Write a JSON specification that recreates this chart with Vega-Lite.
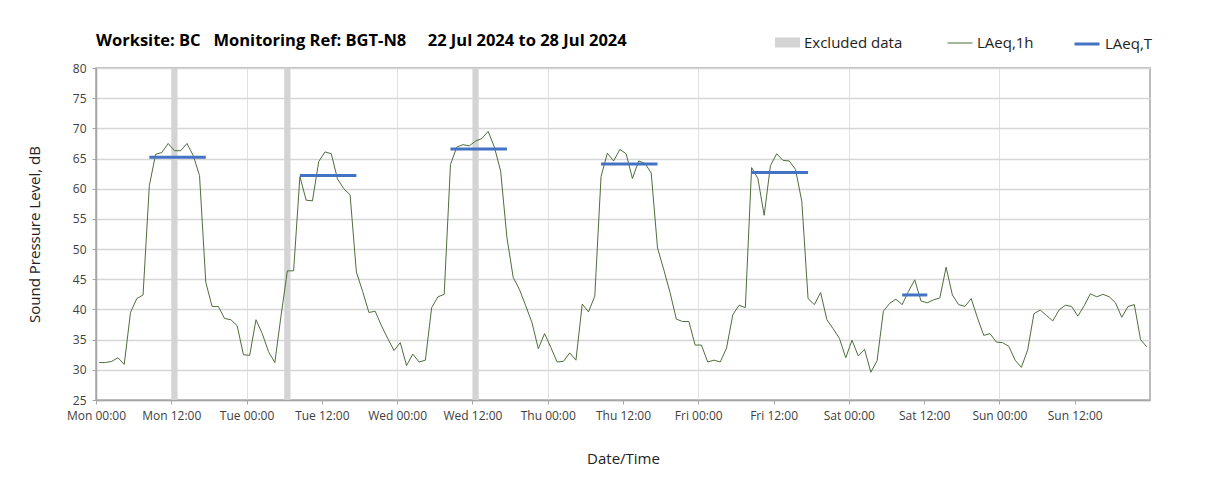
{
"$schema": "https://vega.github.io/schema/vega-lite/v6.json",
"width": 1054, "height": 332,
"autosize": "none",
"padding": {"left": 96, "top": 68, "right": 58, "bottom": 90},
"background": "white",
"title": {"text": "Worksite: BC\u00a0\u00a0\u00a0Monitoring Ref: BGT-N8\u00a0\u00a0\u00a0\u00a0\u00a022 Jul 2024 to 28 Jul 2024", "anchor": "start", "frame": "group", "font": "Open Sans", "fontSize": 16.5, "fontWeight": "bold", "color": "#000000", "offset": -19},
"config": {
  "view": {"stroke": "#a6a6a6", "strokeWidth": 1.5},
  "axis": {"labelFont": "Open Sans", "labelFontSize": 12, "labelColor": "#404040", "titleFont": "Open Sans", "titleFontSize": 15, "titleFontWeight": "normal", "titleColor": "#222222", "tickColor": "#a6a6a6", "domainColor": "#a6a6a6", "domainWidth": 1.5, "tickSize": 4, "labelOverlap": false, "labelFlush": false},
  "legend": {"orient": "none", "direction": "horizontal", "title": null, "padding": 0, "labelFont": "Open Sans", "labelFontSize": 15, "labelColor": "#222222", "symbolSize": 625, "labelOffset": 4, "symbolOpacity": 1}
},
"datasets": {
  "hourly": [
{"t":"2024-07-22T00:30Z","v":31.2},{"t":"2024-07-22T01:30Z","v":31.2},{"t":"2024-07-22T02:30Z","v":31.4},{"t":"2024-07-22T03:30Z","v":32.0},{"t":"2024-07-22T04:30Z","v":30.9},{"t":"2024-07-22T05:30Z","v":39.5},{"t":"2024-07-22T06:30Z","v":41.8},{"t":"2024-07-22T07:30Z","v":42.4},{"t":"2024-07-22T08:30Z","v":60.5},{"t":"2024-07-22T09:30Z","v":65.7},{"t":"2024-07-22T10:30Z","v":66.0},{"t":"2024-07-22T11:30Z","v":67.5},{"t":"2024-07-22T12:30Z","v":66.3},{"t":"2024-07-22T13:30Z","v":66.3},{"t":"2024-07-22T14:30Z","v":67.5},{"t":"2024-07-22T15:30Z","v":65.5},{"t":"2024-07-22T16:30Z","v":62.2},{"t":"2024-07-22T17:30Z","v":44.5},{"t":"2024-07-22T18:30Z","v":40.5},{"t":"2024-07-22T19:30Z","v":40.5},{"t":"2024-07-22T20:30Z","v":38.5},{"t":"2024-07-22T21:30Z","v":38.3},{"t":"2024-07-22T22:30Z","v":37.3},{"t":"2024-07-22T23:30Z","v":32.5},
{"t":"2024-07-23T00:30Z","v":32.4},{"t":"2024-07-23T01:30Z","v":38.3},{"t":"2024-07-23T02:30Z","v":36.0},{"t":"2024-07-23T03:30Z","v":33.0},{"t":"2024-07-23T04:30Z","v":31.2},{"t":"2024-07-23T05:30Z","v":39.0},{"t":"2024-07-23T06:30Z","v":46.4},{"t":"2024-07-23T07:30Z","v":46.4},{"t":"2024-07-23T08:30Z","v":62.0},{"t":"2024-07-23T09:30Z","v":58.1},{"t":"2024-07-23T10:30Z","v":58.0},{"t":"2024-07-23T11:30Z","v":64.5},{"t":"2024-07-23T12:30Z","v":66.1},{"t":"2024-07-23T13:30Z","v":65.8},{"t":"2024-07-23T14:30Z","v":61.6},{"t":"2024-07-23T15:30Z","v":60.0},{"t":"2024-07-23T16:30Z","v":59.0},{"t":"2024-07-23T17:30Z","v":46.2},{"t":"2024-07-23T18:30Z","v":43.0},{"t":"2024-07-23T19:30Z","v":39.5},{"t":"2024-07-23T20:30Z","v":39.7},{"t":"2024-07-23T21:30Z","v":37.3},{"t":"2024-07-23T22:30Z","v":35.2},{"t":"2024-07-23T23:30Z","v":33.2},
{"t":"2024-07-24T00:30Z","v":34.5},{"t":"2024-07-24T01:30Z","v":30.7},{"t":"2024-07-24T02:30Z","v":32.6},{"t":"2024-07-24T03:30Z","v":31.3},{"t":"2024-07-24T04:30Z","v":31.6},{"t":"2024-07-24T05:30Z","v":40.3},{"t":"2024-07-24T06:30Z","v":42.1},{"t":"2024-07-24T07:30Z","v":42.5},{"t":"2024-07-24T08:30Z","v":64.0},{"t":"2024-07-24T09:30Z","v":66.9},{"t":"2024-07-24T10:30Z","v":67.3},{"t":"2024-07-24T11:30Z","v":67.1},{"t":"2024-07-24T12:30Z","v":67.9},{"t":"2024-07-24T13:30Z","v":68.3},{"t":"2024-07-24T14:30Z","v":69.5},{"t":"2024-07-24T15:30Z","v":66.9},{"t":"2024-07-24T16:30Z","v":62.9},{"t":"2024-07-24T17:30Z","v":51.9},{"t":"2024-07-24T18:30Z","v":45.3},{"t":"2024-07-24T19:30Z","v":43.3},{"t":"2024-07-24T20:30Z","v":40.6},{"t":"2024-07-24T21:30Z","v":37.8},{"t":"2024-07-24T22:30Z","v":33.5},{"t":"2024-07-24T23:30Z","v":36.0},
{"t":"2024-07-25T00:30Z","v":33.7},{"t":"2024-07-25T01:30Z","v":31.3},{"t":"2024-07-25T02:30Z","v":31.4},{"t":"2024-07-25T03:30Z","v":32.8},{"t":"2024-07-25T04:30Z","v":31.6},{"t":"2024-07-25T05:30Z","v":40.9},{"t":"2024-07-25T06:30Z","v":39.6},{"t":"2024-07-25T07:30Z","v":42.2},{"t":"2024-07-25T08:30Z","v":62.0},{"t":"2024-07-25T09:30Z","v":65.9},{"t":"2024-07-25T10:30Z","v":64.6},{"t":"2024-07-25T11:30Z","v":66.5},{"t":"2024-07-25T12:30Z","v":65.8},{"t":"2024-07-25T13:30Z","v":61.7},{"t":"2024-07-25T14:30Z","v":64.6},{"t":"2024-07-25T15:30Z","v":64.2},{"t":"2024-07-25T16:30Z","v":62.6},{"t":"2024-07-25T17:30Z","v":50.2},{"t":"2024-07-25T18:30Z","v":46.6},{"t":"2024-07-25T19:30Z","v":42.8},{"t":"2024-07-25T20:30Z","v":38.4},{"t":"2024-07-25T21:30Z","v":38.0},{"t":"2024-07-25T22:30Z","v":38.0},{"t":"2024-07-25T23:30Z","v":34.1},
{"t":"2024-07-26T00:30Z","v":34.1},{"t":"2024-07-26T01:30Z","v":31.3},{"t":"2024-07-26T02:30Z","v":31.6},{"t":"2024-07-26T03:30Z","v":31.3},{"t":"2024-07-26T04:30Z","v":33.6},{"t":"2024-07-26T05:30Z","v":39.1},{"t":"2024-07-26T06:30Z","v":40.7},{"t":"2024-07-26T07:30Z","v":40.3},{"t":"2024-07-26T08:30Z","v":63.5},{"t":"2024-07-26T09:30Z","v":61.7},{"t":"2024-07-26T10:30Z","v":55.6},{"t":"2024-07-26T11:30Z","v":63.8},{"t":"2024-07-26T12:30Z","v":65.8},{"t":"2024-07-26T13:30Z","v":64.7},{"t":"2024-07-26T14:30Z","v":64.6},{"t":"2024-07-26T15:30Z","v":63.2},{"t":"2024-07-26T16:30Z","v":57.9},{"t":"2024-07-26T17:30Z","v":41.8},{"t":"2024-07-26T18:30Z","v":40.8},{"t":"2024-07-26T19:30Z","v":42.8},{"t":"2024-07-26T20:30Z","v":38.3},{"t":"2024-07-26T21:30Z","v":36.8},{"t":"2024-07-26T22:30Z","v":35.2},{"t":"2024-07-26T23:30Z","v":32.0},
{"t":"2024-07-27T00:30Z","v":34.9},{"t":"2024-07-27T01:30Z","v":32.3},{"t":"2024-07-27T02:30Z","v":33.4},{"t":"2024-07-27T03:30Z","v":29.6},{"t":"2024-07-27T04:30Z","v":31.5},{"t":"2024-07-27T05:30Z","v":39.7},{"t":"2024-07-27T06:30Z","v":41.0},{"t":"2024-07-27T07:30Z","v":41.7},{"t":"2024-07-27T08:30Z","v":40.8},{"t":"2024-07-27T09:30Z","v":43.0},{"t":"2024-07-27T10:30Z","v":44.9},{"t":"2024-07-27T11:30Z","v":41.4},{"t":"2024-07-27T12:30Z","v":41.1},{"t":"2024-07-27T13:30Z","v":41.6},{"t":"2024-07-27T14:30Z","v":41.9},{"t":"2024-07-27T15:30Z","v":47.0},{"t":"2024-07-27T16:30Z","v":42.4},{"t":"2024-07-27T17:30Z","v":40.8},{"t":"2024-07-27T18:30Z","v":40.5},{"t":"2024-07-27T19:30Z","v":41.8},{"t":"2024-07-27T20:30Z","v":38.6},{"t":"2024-07-27T21:30Z","v":35.7},{"t":"2024-07-27T22:30Z","v":36.0},{"t":"2024-07-27T23:30Z","v":34.6},
{"t":"2024-07-28T00:30Z","v":34.5},{"t":"2024-07-28T01:30Z","v":33.9},{"t":"2024-07-28T02:30Z","v":31.6},{"t":"2024-07-28T03:30Z","v":30.4},{"t":"2024-07-28T04:30Z","v":33.3},{"t":"2024-07-28T05:30Z","v":39.3},{"t":"2024-07-28T06:30Z","v":39.9},{"t":"2024-07-28T07:30Z","v":39.0},{"t":"2024-07-28T08:30Z","v":38.1},{"t":"2024-07-28T09:30Z","v":39.9},{"t":"2024-07-28T10:30Z","v":40.7},{"t":"2024-07-28T11:30Z","v":40.5},{"t":"2024-07-28T12:30Z","v":38.9},{"t":"2024-07-28T13:30Z","v":40.6},{"t":"2024-07-28T14:30Z","v":42.6},{"t":"2024-07-28T15:30Z","v":42.1},{"t":"2024-07-28T16:30Z","v":42.5},{"t":"2024-07-28T17:30Z","v":42.1},{"t":"2024-07-28T18:30Z","v":41.1},{"t":"2024-07-28T19:30Z","v":38.7},{"t":"2024-07-28T20:30Z","v":40.5},{"t":"2024-07-28T21:30Z","v":40.8},{"t":"2024-07-28T22:30Z","v":35.0},{"t":"2024-07-28T23:30Z","v":33.8}
  ],
  "excluded": [
    {"start": "2024-07-22T12:00Z", "end": "2024-07-22T13:00Z"},
    {"start": "2024-07-23T06:00Z", "end": "2024-07-23T07:00Z"},
    {"start": "2024-07-24T12:00Z", "end": "2024-07-24T13:00Z"}
  ],
  "periods": [
    {"start": "2024-07-22T08:30Z", "end": "2024-07-22T17:30Z", "v": 65.2},
    {"start": "2024-07-23T08:30Z", "end": "2024-07-23T17:30Z", "v": 62.2},
    {"start": "2024-07-24T08:30Z", "end": "2024-07-24T17:30Z", "v": 66.6},
    {"start": "2024-07-25T08:30Z", "end": "2024-07-25T17:30Z", "v": 64.1},
    {"start": "2024-07-26T08:30Z", "end": "2024-07-26T17:30Z", "v": 62.7},
    {"start": "2024-07-27T08:30Z", "end": "2024-07-27T12:30Z", "v": 42.4}
  ]
},
"layer": [
  {
    "data": {"name": "excluded"},
    "mark": {"type": "rect", "opacity": 1},
    "encoding": {
      "x": {"field": "start", "type": "temporal",
        "scale": {"type": "utc", "domain": [{"year": 2024, "month": 7, "date": 22, "utc": true}, {"year": 2024, "month": 7, "date": 29, "utc": true}]},
        "axis": {
          "values": [
            {"year": 2024, "month": 7, "date": 22, "hours": 0, "utc": true},
            {"year": 2024, "month": 7, "date": 22, "hours": 12, "utc": true},
            {"year": 2024, "month": 7, "date": 23, "hours": 0, "utc": true},
            {"year": 2024, "month": 7, "date": 23, "hours": 12, "utc": true},
            {"year": 2024, "month": 7, "date": 24, "hours": 0, "utc": true},
            {"year": 2024, "month": 7, "date": 24, "hours": 12, "utc": true},
            {"year": 2024, "month": 7, "date": 25, "hours": 0, "utc": true},
            {"year": 2024, "month": 7, "date": 25, "hours": 12, "utc": true},
            {"year": 2024, "month": 7, "date": 26, "hours": 0, "utc": true},
            {"year": 2024, "month": 7, "date": 26, "hours": 12, "utc": true},
            {"year": 2024, "month": 7, "date": 27, "hours": 0, "utc": true},
            {"year": 2024, "month": 7, "date": 27, "hours": 12, "utc": true},
            {"year": 2024, "month": 7, "date": 28, "hours": 0, "utc": true},
            {"year": 2024, "month": 7, "date": 28, "hours": 12, "utc": true}
          ],
          "format": "%a %H:%M",
          "labelPadding": 6,
          "labelOverlap": false,
          "labelFlush": false,
          "title": "Date/Time",
          "titlePadding": 30,
          "grid": true,
          "gridColor": {"condition": {"test": "utchours(datum.value) == 0", "value": "#e0e0e0"}, "value": "transparent"},
          "gridWidth": 1
        }
      },
      "x2": {"field": "end"},
      "fill": {"datum": "Excluded data", "type": "nominal",
        "scale": {"domain": ["Excluded data"], "range": ["#d4d4d4"]},
        "legend": {"legendX": 679, "legendY": -38, "symbolType": "M-1,-0.4H1V0.4H-1Z", "symbolStrokeWidth": 0}
      }
    }
  },
  {
    "data": {"name": "hourly"},
    "mark": {"type": "line", "strokeWidth": 1},
    "encoding": {
      "x": {"field": "t", "type": "temporal"},
      "y": {"field": "v", "type": "quantitative",
        "scale": {"domain": [25, 80], "nice": false, "zero": false},
        "axis": {"values": [25, 30, 35, 40, 45, 50, 55, 60, 65, 70, 75, 80], "tickCount": 12, "labelOverlap": false, "grid": true, "gridColor": "#d6d6d6", "gridWidth": 1.5, "labelPadding": 6, "title": "Sound Pressure Level, dB", "titlePadding": 30}
      },
      "stroke": {"datum": "LAeq,1h", "type": "nominal",
        "scale": {"domain": ["LAeq,1h"], "range": ["#4e6e3c"]},
        "legend": {"legendX": 851, "legendY": -38, "symbolType": "stroke", "symbolStrokeWidth": 1}
      }
    }
  },
  {
    "data": {"name": "periods"},
    "mark": {"type": "rule", "strokeWidth": 3},
    "encoding": {
      "x": {"field": "start", "type": "temporal"},
      "x2": {"field": "end"},
      "y": {"field": "v", "type": "quantitative",
        "axis": {"values": [25, 30, 35, 40, 45, 50, 55, 60, 65, 70, 75, 80], "tickCount": 12, "labelOverlap": false, "grid": true, "gridColor": "#d6d6d6", "gridWidth": 1.5, "labelPadding": 6, "title": "Sound Pressure Level, dB", "titlePadding": 30}
      },
      "color": {"datum": "LAeq,T", "type": "nominal",
        "scale": {"domain": ["LAeq,T"], "range": ["#4472c4"]},
        "legend": {"legendX": 977, "legendY": -38, "symbolType": "stroke", "symbolStrokeWidth": 3}
      }
    }
  }
]
}
